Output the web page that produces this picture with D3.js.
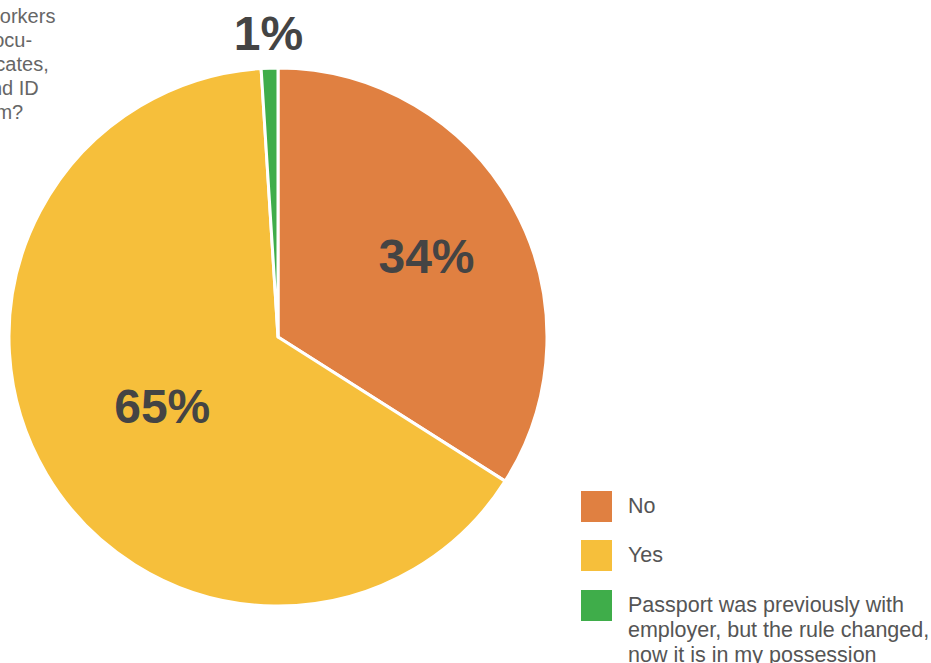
<!DOCTYPE html>
<html>
<head>
<meta charset="utf-8">
<script src="https://cdn.jsdelivr.net/npm/d3@7"></script>
<style>
  body { margin: 0; background: #fff; }
  svg { display: block; font-family: "Liberation Sans", Arial, Helvetica, sans-serif; }
</style>
</head>
<body>
<svg id="chart" width="931" height="663"></svg>
<script>
// data
const categories = ['No', 'Yes', 'Passport was previously with employer, but the rule changed, now it is in my possession'];
const values = [34, 65, 1];
const colors = ['#e08041', '#f6bf3b', '#3fad4a'];
const legendLines = [['No'], ['Yes'], ['Passport was previously with', 'employer, but the rule changed,', 'now it is in my possession']];
const questionLines = ['Do migrant workers', 'retain their docu-', 'ments, certificates,', 'passports, and ID', 'card with them?'];

const W = 931, H = 663;
const cx = 278, cy = 337, radius = 269;

const svg = d3.select('#chart');

// question text, clipped on the left side
svg.append('g')
    .selectAll('text')
    .data(questionLines).enter().append('text')
    .attr('x', -118)
    .attr('y', (d, i) => 23 + i * 24)
    .attr('font-size', 20)
    .attr('fill', '#666')
    .text(d => d);

const pie = d3.pie().sort(null).value(d => d);
const arcs = pie(values);
const arc = d3.arc().innerRadius(0).outerRadius(radius);

const g = svg.append('g').attr('transform', `translate(${cx},${cy})`);

g.selectAll('path')
    .data(arcs).enter().append('path')
    .attr('d', arc)
    .attr('fill', (d, i) => colors[i])
    .attr('stroke', '#fff')
    .attr('stroke-width', 3)
    .attr('stroke-linejoin', 'round');

// labels: inside for big slices (closer in for the biggest), outside for the tiny one
function labelPos(d) {
    const frac = (d.endAngle - d.startAngle) / (2 * Math.PI);
    let r = radius * 0.63;
    if (frac < 0.05) r = radius + 35;
    else if (frac > 0.5) r = radius * 0.5;
    return d3.arc().innerRadius(r).outerRadius(r).centroid(d);
}

g.selectAll('text.lbl')
    .data(arcs).enter().append('text')
    .attr('class', 'lbl')
    .attr('transform', d => `translate(${labelPos(d)})`)
    .attr('text-anchor', 'middle')
    .attr('dy', '0.36em')
    .attr('font-size', 48)
    .attr('font-weight', 'bold')
    .attr('fill', '#444')
    .text(d => d.value + '%');

// legend
const legend = svg.append('g').attr('transform', 'translate(581,491)');
const item = legend.selectAll('g')
    .data(categories).enter().append('g')
    .attr('transform', (d, i) => `translate(0,${[0, 49, 99][i]})`);
item.append('rect')
    .attr('width', 31).attr('height', 31)
    .attr('fill', (d, i) => colors[i]);
item.append('text')
    .attr('x', 47)
    .attr('y', 22)
    .attr('font-size', 21.5)
    .attr('fill', '#555')
    .selectAll('tspan')
    .data((d, i) => legendLines[i]).enter().append('tspan')
    .attr('x', 47)
    .attr('dy', (d, j) => j === 0 ? 0 : 25)
    .text(d => d);
</script>
</body>
</html>
